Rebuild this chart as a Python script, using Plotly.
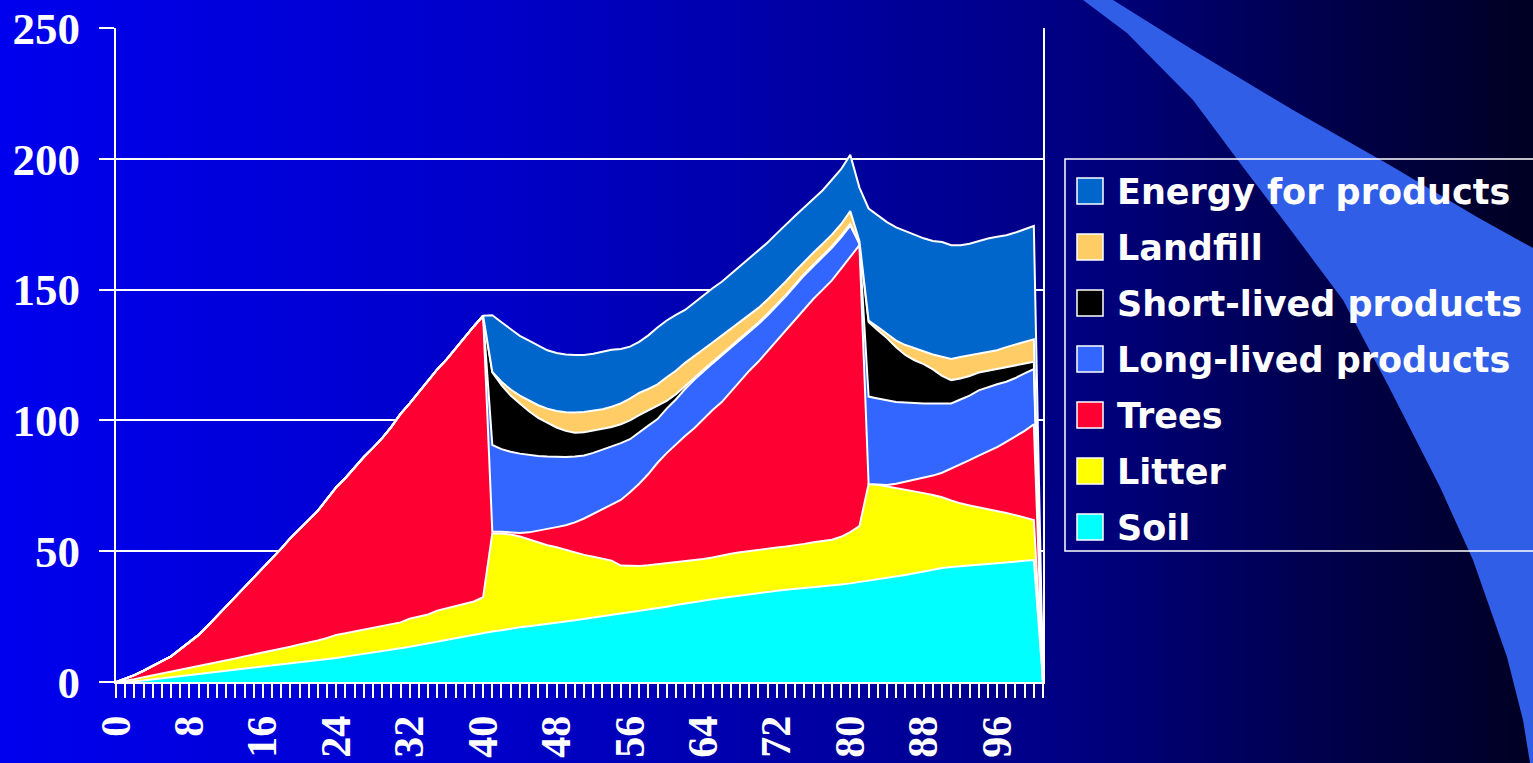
import base64
import plotly.graph_objects as go

# ---------------- data ----------------
years = list(range(0, 102))

soil = [0, 0.1, 0.3, 0.6, 1.0, 1.4, 1.8, 2.3, 2.7, 3.2, 3.6, 4.0, 4.4, 4.8, 5.1, 5.5, 5.8, 6.2, 6.6, 7.0,
        7.4, 7.8, 8.3, 8.7, 9.2, 9.7, 10.2, 10.7, 11.2, 11.7, 12.3, 12.9, 13.5, 14.1, 14.8, 15.4, 16.0, 16.7,
        17.4, 18.1, 18.8, 19.3, 19.8, 20.4, 20.9, 21.3, 21.7, 22.1, 22.6, 23.1, 23.6, 24.1, 24.6, 25.1, 25.6,
        26.1, 26.6, 27.1, 27.7, 28.2, 28.8, 29.4, 30.0, 30.6, 31.1, 31.6, 32.1, 32.6, 33.1, 33.6, 34.1, 34.5,
        34.9, 35.3, 35.6, 35.9, 36.3, 36.6, 36.9, 37.3, 37.7, 38.2, 38.7, 39.2, 39.7, 40.3, 40.9, 41.6, 42.3,
        43.0, 43.6, 44.0, 44.3, 44.5, 44.7, 45.0, 45.4, 45.8, 46.1, 46.4, 46.6, 0]

litter = [0, 0.4, 0.8, 1.2, 1.5, 1.8, 2.1, 2.3, 2.6, 2.9, 3.2, 3.5, 3.9, 4.2, 4.7, 5.0, 5.5, 5.8, 6.2, 6.5,
          6.9, 7.2, 7.6, 8.1, 8.8, 8.9, 9.1, 9.3, 9.5, 9.7, 9.7, 9.9, 10.7, 10.9, 11.0, 11.9, 12.2, 12.3, 12.6,
          12.7, 13.6,
          37.6, 37.0, 36.0, 34.7, 33.2, 31.5, 30.2, 28.9, 27.4, 26.0,
          24.5, 23.3, 22.1, 20.8, 18.4, 17.7, 17.2, 16.9, 16.8, 16.6,
          16.4, 16.1, 15.9, 15.9, 16.0, 16.3, 16.4, 16.5, 16.5, 16.5,
          16.6, 16.5, 16.5, 16.6, 16.9, 17.1, 17.3, 17.5, 18.2, 19.6,
          21.4, 37.0, 36.2, 35.1, 33.9, 32.5, 31.2, 29.9, 28.5, 27.0,
          25.4, 24.0, 23.0, 22.1, 21.2, 20.0, 18.8, 17.7, 16.5, 15.3, 0]

trees = [0, 0.7, 1.5, 2.5, 3.8, 4.8, 5.9, 7.9, 9.7, 11.9, 14.7, 17.7, 20.5, 23.5, 26.2, 29.5, 32.5, 35.5,
         38.2, 41.5, 44.2, 47.0, 49.6, 53.2, 56.5, 59.4, 62.7, 66.0, 68.8, 71.8, 75.5, 79.7, 82.3, 85.8, 89.0,
         92.2, 95.0, 98.5, 102.0, 105.2, 107.6,
         0.6, 0.6, 0.8, 1.4, 2.7, 4.6, 6.2, 7.7, 9.4, 11.4,
         13.9, 16.4, 18.8, 21.4, 25.1, 28.2, 31.5, 34.9, 38.8, 42.1,
         45.0, 47.9, 50.5, 53.5, 56.4, 58.6, 62.0, 65.4, 68.9, 71.9,
         75.4, 79.1, 82.7, 86.3, 89.7, 93.1, 96.1, 99.1, 102.5, 105.2,
         107.4, 0.0, 0.1, 0.5, 1.6, 3.2, 4.5, 5.8, 7.4, 9.4,
         12.1, 15.0, 17.3, 19.7, 21.8, 24.4, 27.2, 30.1, 33.1, 36.6, 0]

long_lived = [0] * 41 + [
    33.1, 31.6, 30.8, 30.3, 29.6, 28.6, 27.7, 26.8, 26.1, 25.2,
    24.1, 23.3, 22.8, 22.2, 21.7, 20.3, 19.7, 18.5, 16.7, 17.0,
    17.2, 18.0, 18.5, 18.3, 17.8, 17.8, 16.8, 15.8, 14.8, 14.3,
    13.7, 13.2, 13.0, 13.0, 13.0, 12.5, 12.5, 12.5, 12.0, 12.0,
    0.5, 33.4, 32.9, 32.3, 31.2, 30.2, 29.3, 28.5, 27.6, 26.5,
    25.0, 24.7, 24.7, 25.0, 24.8, 24.0, 23.0, 22.3, 22.0, 21.1, 0]

short_lived = [0] * 41 + [
    27.8, 24.5, 21.5, 19.2, 16.7, 14.6, 12.8, 11.3, 10.0, 9.1,
    8.9, 8.6, 8.0, 7.5, 7.2, 7.2, 6.5, 5.8, 5.0, 3.0,
    2.0, 1.0, 0.7, 0.6, 0.6, 0.6, 0.6, 0.6, 0.6, 0.6,
    0.6, 0.6, 0.6, 0.6, 0.6, 0.6, 0.6, 0.6, 0.6, 0.6,
    0.2, 28.5, 26.1, 23.9, 21.0, 18.2, 16.4, 15.0, 13.0, 10.5,
    8.9, 8.0, 7.5, 6.8, 6.2, 5.9, 5.6, 4.8, 3.7, 2.8, 0]

landfill = [0] * 41 + [
    0.1, 1.3, 2.3, 3.0, 4.0, 4.8, 5.5, 6.3, 7.1, 7.7,
    7.7, 7.6, 7.5, 7.7, 8.0, 8.3, 8.5, 8.2, 8.3, 9.0,
    9.0, 9.0, 8.3, 7.8, 7.4, 7.0, 6.6, 6.3, 5.9, 5.6,
    5.4, 5.3, 5.1, 4.9, 4.7, 4.6, 4.4, 4.4, 4.4, 4.9,
    0.8, 0.6, 1.2, 1.5, 2.5, 3.8, 4.5, 4.8, 5.7, 7.3,
    8.1, 8.2, 7.8, 7.1, 7.0, 7.1, 7.6, 8.0, 8.3, 8.6, 0]

energy = [0] * 41 + [
    21.7, 22.7, 23.0, 22.8, 23.0, 22.7, 22.3, 22.2, 22.1, 22.0,
    21.8, 21.7, 21.9, 21.8, 20.8, 19.9, 19.5, 20.5, 21.7, 21.7,
    21.3, 20.2, 20.5, 20.6, 20.7, 20.6, 21.0, 21.3, 21.7, 21.8,
    21.8, 21.9, 21.8, 21.2, 20.7, 20.6, 20.5, 21.0, 21.0, 21.5,
    20.5, 42.8, 42.7, 42.8, 43.3, 43.5, 43.5, 43.3, 43.4, 43.9,
    43.5, 42.8, 42.7, 43.1, 43.5, 43.4, 42.8, 42.8, 43.0, 43.3, 0]

series_names = ["Soil", "Litter", "Trees", "Long-lived products",
                "Short-lived products", "Landfill", "Energy for products"]
series_values = [soil, litter, trees, long_lived, short_lived, landfill, energy]
series_colors = ["#00FFFF", "#FFFF00", "#FF0033", "#3366FF", "#000000", "#FFCC66", "#0066CC"]

y_ticks = [0, 50, 100, 150, 200, 250]

# ---------------- geometry ----------------
W, H = 1533, 763
L, R, T, B = 116, 1043, 28, 682
PW, PH = R - L, B - T


def px(x):
    return (x - L) / PW


def py(y):
    return (B - y) / PH


fig = go.Figure()
for name, vals, col in zip(series_names, series_values, series_colors):
    fig.add_trace(go.Scatter(
        x=years, y=vals, name=name, mode="lines", stackgroup="one",
        line=dict(color="white", width=2), fillcolor=col, showlegend=False,
    ))

# ---------------- background (gradient + swoosh) ----------------
svg = f'''<svg xmlns="http://www.w3.org/2000/svg" width="{W}" height="{H}" viewBox="0 0 {W} {H}" preserveAspectRatio="none">
<defs><linearGradient id="g" x1="0" y1="0" x2="1" y2="0">
<stop offset="0" stop-color="rgb(0,0,238)"/>
<stop offset="0.33" stop-color="rgb(0,0,200)"/>
<stop offset="0.68" stop-color="rgb(0,0,135)"/>
<stop offset="0.85" stop-color="rgb(0,0,80)"/>
<stop offset="1" stop-color="rgb(0,0,35)"/>
</linearGradient></defs>
<rect x="0" y="0" width="{W}" height="{H}" fill="url(#g)"/>
<path d="M1083,0 L1127,33 L1193,100 L1243,167 L1293,233 L1343,300 L1390,389 L1440,487 L1473,560 L1507,657 L1523,720 L1530,763 L1533,763 L1533,248 L1477,217 L1393,167 L1293,110 L1193,50 L1113,0 Z" fill="#305EE6"/>
</svg>'''
src = "data:image/svg+xml;base64," + base64.b64encode(svg.encode()).decode()

shapes = []
annotations = []
# legend box
shapes.append(dict(type="rect", xref="paper", yref="paper",
                   x0=px(1065), x1=px(1545), y0=py(551), y1=py(159),
                   line=dict(color="white", width=1.5), fillcolor="rgba(0,0,0,0)"))
legend_order = list(zip(series_names, series_colors))[::-1]
for i, (name, col) in enumerate(legend_order):
    cy = 191 + 56 * i
    shapes.append(dict(type="rect", xref="paper", yref="paper",
                       x0=px(1077), x1=px(1103), y0=py(cy + 13), y1=py(cy - 13),
                       line=dict(color="white", width=1.5), fillcolor=col))
    annotations.append(dict(xref="paper", yref="paper", x=px(1115), y=py(cy + 1),
                            xanchor="left", yanchor="middle", showarrow=False, text=name,
                            font=dict(family="DejaVu Sans", size=35, color="white", weight="bold")))

ytickfont = dict(family="Liberation Serif", size=45, color="white", weight="bold")
xtickfont = dict(family="Liberation Serif", size=42, color="white", weight="bold")

fig.update_layout(
    width=W, height=H,
    margin=dict(l=L, r=W - R, t=T, b=H - B, autoexpand=False),
    paper_bgcolor="#0000A0",
    plot_bgcolor="rgba(0,0,0,0)",
    showlegend=False,
    images=[dict(source=src, xref="paper", yref="paper", x=px(0), y=py(0),
                 sizex=W / PW, sizey=H / PH, xanchor="left", yanchor="top",
                 sizing="stretch", layer="below")],
    shapes=shapes,
    annotations=annotations,
    xaxis=dict(range=[0, 101], tickmode="linear", tick0=0, dtick=8,
               ticks="outside", ticklen=14, tickwidth=2, tickcolor="white",
               minor=dict(dtick=1, ticks="outside", ticklen=14, tickwidth=2,
                          tickcolor="white", showgrid=False),
               showgrid=False, zeroline=False, showline=True, linecolor="white", linewidth=2,
               tickangle=-90, tickfont=xtickfont, ticklabelstandoff=1),
    yaxis=dict(range=[0, 250], tickmode="array", tickvals=y_ticks,
               ticks="outside", ticklen=15, tickwidth=2, tickcolor="white",
               showgrid=True, gridcolor="white", gridwidth=2, zeroline=False,
               showline=True, linecolor="white", linewidth=2, mirror=True,
               tickfont=ytickfont, ticklabelstandoff=10),
)

fig.write_html("out.html")
